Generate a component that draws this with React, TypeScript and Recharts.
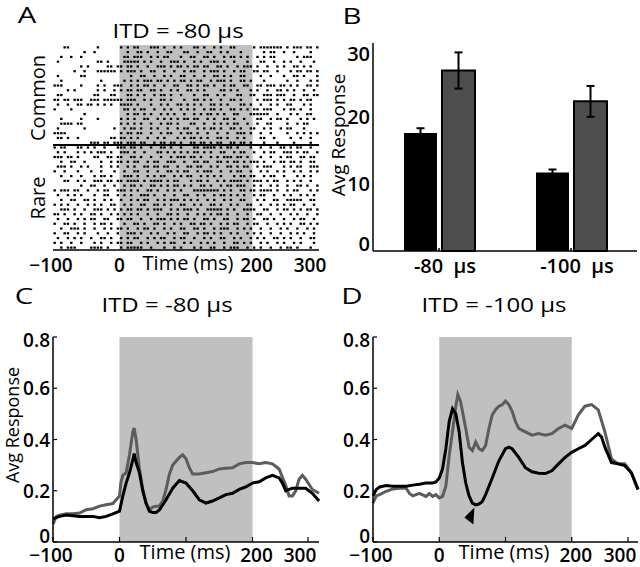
import React from 'react';
import {
  Bar,
  BarChart,
  ErrorBar,
  Line,
  LineChart,
  ReferenceArea,
  ReferenceDot,
  ReferenceLine,
  Scatter,
  ScatterChart,
  XAxis,
  YAxis,
} from 'recharts';

const FONT = '"Open Sans", "DejaVu Sans", sans-serif';
const SHADE = '#c0c0c0';
const GRAY_LINE = '#5c5c5c';

// panel A: spike raster, one string per 100 ms, one char per 5 ms bin
const commonTrials = [
  ['...xx........x......', 'x.x.xx...xxx.x..x.x.', '..xx.x..x.x..xx.....', 'x.xxxxxxx.x.xxx.xx.x'],
  ['.........x..x.......', '..x..xx.x..x..xx...x', 'x..x..xx..x.x...x...', '...x.xx..x..x....x..'],
  ['..x..x..x...........', '.xx.xxx..x.x.xx...x.', '.xx..xx.x..x.xx.x.x.', '.x.x.xx......x.xxx..'],
  ['.x...........xx.x...', '.xxxxx.x.x..x..xxx.x', '..x.x..xxx.x..x...x.', '..xx..x..x.x..x...x.'],
  ['........x.x.....xx.x', 'x.xx.x..x..xxx.x.xx.', 'x.xx.xx..xx.x..x.xxx', '.x..x..x.x..xx.x.x..'],
  ['......x..x...xxxxxx.', 'x.xxx.x..xx..x..x..x', '.xx..x.xxx.x..x.xx..', 'xx.xx..x...x.xx.xx.x'],
  ['.x......xx..........', '...x..xx..x..x.x..xx', '..x..x..xx.x.x..xx..', '..x..x...x..xx.x...x'],
  ['..x...........x.....', '.x.x.x.xxx.xx.x.x.xx', '.x.xx..x.xxx.x..xx.x', '...x......x..x...x.x'],
  ['xxx.....x....x.x..xx', 'x..x.x.xx.x..x..xx..', 'xx.x.xx.x..x.xx..xx.', '.xx.xxx.xx.x.x..xx.x'],
  ['....x.x......x.x..x.', 'x.xx.xx..xx.x..x.x..', 'xx.x.x....xx.x.x...x', '.x..x..xx.x.x..x..x.'],
  ['.xx.........xx...xx.', '..xx.x.x..x.xx.x..x.', '..x..xx..x.x...xx..x', 'x..xxx.xxx..x..xx.xx'],
  ['xx.xx.xxx..xxx.xxxxx', 'x.xxx..x.x..xx.x...x', '..xx.x.x..x..xx.x...', '.x.xxx.x.x.xx.x.xx..'],
  ['.x..x..xx.xx.x.x.x..', 'xxxx.x...x..x.x..xx.', 'x.x.x..xx.x.x...xx.x', '..x..x.x..xx...x.x..'],
  ['x....x..............', '.xx.x.xx..x..x.x..x.', 'x.x..x.xx.x..xx.x.x.', 'xx.xxx...x.xx.x..x..'],
  ['.........x..........', '..x.xx.x.x..x.x.x..x', '..x.x.xx.x.x..xx...x', 'xxxxx..x...x.x..xx..'],
  ['..x.....x....x......', 'x.x.x..xx..x.x.x.x.x', 'x.xx..x.x..xx.x..x..', '.xx..x.xx.x...x.x.x.'],
  ['..xxxx.xx...........', 'x.x.x.x..x..x.xx.x..', '.xx..x..x.x.x.xx..x.', '.x..xx....x..x.xx...'],
  ['.x.......x........x.', '.x.xx.x..x.x..x..x.x', 'x..x.x.xx.x..xx.x..x', 'x..x.x..x.xx...x....'],
  ['xxxx................', 'x.xx.xx..x..x.xx..x.', 'xx.x..x..x..x..xxx.x', '..x..x....x..x.x.x.x'],
  ['.xx.x..x.........xx.', 'xx.x.x..x..x.x...x.x', '.xx.x.x..xx.x..x.x..', '..xx..x....x..x..x..'],
  ['...........xxx.xx.xx', 'x.xxx.xx..x.xx.xx.x.', '.xx.xx.x.xx..xx.xx.x', '...x...x....x....x..'],
];

const rareTrials = [
  ['x.xx...xx.x.x..x...x', 'xx.xx.x..x..xx.x..x.', '..xx.xxxx.x.xx.x...x', '..x..x..xx.x.xx..x..'],
  ['.x.x...x.x.x.xxx.x..', 'xxx.x..x...xx.x.x.x.', 'x.xx.x.x..xx..x.xx..', 'x..x.xx..xxx.x.xx..x'],
  ['xxx.xx.x....xx..xx.x', 'x..xx.x..x..x..x.xxx', '.xx.x..x.x.xxx.xx.x.', '..x..x..x.xx..xx.xx.'],
  ['..x..xx..x....x..x.x', 'x.x.xx..x.xx..xxx..x', '..xx.xx..xx.x.xx.x.x', 'xx.x..x.xx.xx.x..xx.'],
  ['.xxx.x..x.x...x..x.x', '..x.x..xx.xx.xx..x..', 'xx.xx..x.x..xx.x.xx.', '.x.xxx...x.x.xx..xxx'],
  ['x..x...x...x..x...x.', '.x..xx..x..x..xx.x.x', 'x..x.xxx..x..x.xx..x', '..x.x..x.x..x.x..x.x'],
  ['..x..x..x...x.xx.x..', '.xxx.x..x.x.xx..x.x.', 'xx..x.x.x.x...x.xx.x', 'x..x.xx..x...x.x.x..'],
  ['...xx..x.x..xxx.xx.x', 'x.xxxx.x.xxxx.x.xx..', '.x.xx.x..x.x.xxxx.x.', 'xxx.x.xx..x.x.x..x..'],
  ['........x..xx..x..x.', '.x.xx.x..xx.x.x.xx.x', '.x..xx.x..x.xx.xxx..', 'x.x..x.x..x..xx.x..x'],
  ['x.xxx.xx..x..x.xx..x', 'xx.x.x..xx.x..x.x.x.', '..xxxxxxxx.x.x..xx.x', 'x.xxxx.x..x.xx...x.x'],
  ['.x..x.x.x...x..xx..x', '.x.x..xxx.x..x..x..x', 'x..x.x..x.xx.x.x.x..', 'x.xx..x..x.x..x.x.x.'],
  ['..x..xx..xx.x..x.x..', 'x..x.x.xx..x.x.xxx.x', '.x.x..x.x..x.x..xx..', '.x.x..xx..xxxxx..xx.'],
  ['x.x.x..x..x.x.x..xx.', '.x.x..xx..xx.x.x..xx', '..x.x..xx.x..x.x..xx', '..x..x.x.x.xx..x..x.'],
  ['..xxx.x..x..xxx.x.x.', 'x.xx.xx.x.xxx..x.x.x', 'xx.x..xxxxx.x.x..xxx', 'x..xx..x.xx.x.x.xx.x'],
  ['xx.x..x.x..xx.x..x.x', '.x.x.x..x..x..xx.x..', 'x..x.x.x.xx.x..x..x.', '.xx..x..x..x.x..x..x'],
  ['.x..x..x.x.xx..xx..x', 'x.xx..x..x.xxx.x.x.x', 'x.x..xx.x..xx..x.xx.', 'x..xx.x..x..x.xx..x.'],
  ['x..xx.x..x..x.xx.x..', '.x..xx.x..xx.x..x.x.', '.xx.xx.x..x.x.xx..x.', 'xx..x..x.x.x..xx.x.x'],
  ['..x..xxx.x..x..x.x.x', 'x.x..x.xx.x..x.x..xx', '..xx.x..x.xxx..x.x.x', '..x..x..x.x..x..x.x.'],
  ['x..xx..x.x...x..x..x', '..xxx.x..x.x..x.x..x', 'x..x.xx.x.x..x.x..x.', 'x.x..x..x..x.x.x..x.'],
  ['.x..x.x.x..x..xx.x..', 'x.x.xx..x.x.xx..x.xx', '..x..x.x..xx..x.x..x', '.x.x..xx.x.x..x..xx.'],
  ['x.x..x..x...x.x..x.x', 'x.xx..x.x..x.x.xx..x', '.x..x.x.x..x..xx.x.x', '..x.x..x.x..x.x...x.'],
  ['..x.xxx....xxxx.x...', 'x.xxxxx..x...x..x.x.', '..x.x..xx..x.xxx..x.', 'x.x..x..x.xx.x...x..'],
];

const timeTicks = [-100, 0, 100, 200, 300];

// panel B: mean response per ITD, common vs rare
const itdConditions = ['-80 µs', '-100 µs'];
const commonMean = [17.6, 11.7];
const commonSem = [0.7, 0.45];
const rareMean = [26.9, 22.3];
const rareSem = [2.7, 2.3];
const countTicks = [0, 10, 20, 30];

// panels C and D: PSTH curves
const respTicks = [0, 0.2, 0.4, 0.6, 0.8];

const c80CommonT = [-100, -90, -80, -60, -40, -30, -20, -10, 0, 5, 10, 15, 20, 22, 25, 30, 35, 40, 45, 50, 55, 60, 70, 80, 90, 100, 110, 120, 130, 140, 150, 160, 170, 180, 190, 200, 210, 220, 230, 240, 245, 250, 260, 270, 280, 290, 300];
const c80CommonV = [0.09, 0.1, 0.105, 0.1, 0.1, 0.095, 0.1, 0.11, 0.12, 0.18, 0.23, 0.27, 0.32, 0.345, 0.31, 0.27, 0.2, 0.15, 0.12, 0.115, 0.115, 0.125, 0.165, 0.21, 0.24, 0.23, 0.2, 0.165, 0.152, 0.16, 0.172, 0.185, 0.19, 0.205, 0.215, 0.23, 0.235, 0.25, 0.26, 0.25, 0.23, 0.2, 0.21, 0.21, 0.21, 0.19, 0.16];
const c80RareT = [-100, -95, -90, -80, -70, -60, -50, -40, -30, -20, -10, -5, 0, 2, 5, 10, 15, 20, 22, 25, 30, 35, 40, 45, 50, 55, 60, 65, 70, 75, 80, 90, 95, 100, 105, 110, 120, 130, 140, 150, 160, 170, 180, 190, 200, 210, 220, 230, 240, 250, 255, 260, 265, 270, 275, 280, 290, 300];
const c80RareV = [0.07, 0.1, 0.105, 0.11, 0.11, 0.113, 0.126, 0.13, 0.14, 0.145, 0.15, 0.165, 0.18, 0.23, 0.26, 0.27, 0.34, 0.43, 0.445, 0.4, 0.285, 0.205, 0.152, 0.126, 0.136, 0.14, 0.14, 0.16, 0.205, 0.265, 0.3, 0.33, 0.34, 0.325, 0.29, 0.265, 0.265, 0.27, 0.275, 0.285, 0.288, 0.29, 0.305, 0.31, 0.31, 0.305, 0.31, 0.305, 0.285, 0.22, 0.18, 0.18, 0.2, 0.245, 0.26, 0.245, 0.205, 0.19];

const c100CommonT = [-100, -95, -90, -80, -70, -60, -50, -40, -30, -20, -10, -5, 0, 5, 10, 15, 20, 25, 30, 35, 40, 45, 50, 55, 60, 65, 70, 80, 90, 100, 105, 110, 120, 130, 140, 150, 160, 170, 180, 190, 200, 210, 220, 230, 240, 245, 250, 260, 270, 280, 290, 300];
const c100CommonV = [0.18, 0.205, 0.215, 0.22, 0.218, 0.218, 0.218, 0.222, 0.225, 0.23, 0.23, 0.234, 0.25, 0.285, 0.365, 0.47, 0.52, 0.5, 0.43, 0.31, 0.23, 0.18, 0.152, 0.145, 0.148, 0.158, 0.185, 0.25, 0.317, 0.364, 0.37, 0.364, 0.33, 0.29, 0.274, 0.268, 0.267, 0.278, 0.305, 0.33, 0.35, 0.364, 0.377, 0.4, 0.423, 0.41, 0.37, 0.31, 0.305, 0.298, 0.27, 0.205];
const c100RareT = [-100, -95, -90, -80, -70, -60, -50, -45, -40, -30, -20, -15, -10, -5, 0, 5, 10, 15, 20, 25, 28, 32, 35, 40, 45, 50, 55, 60, 65, 70, 75, 80, 85, 90, 95, 100, 105, 110, 115, 120, 130, 140, 150, 160, 170, 180, 190, 200, 205, 210, 220, 230, 240, 250, 260, 270, 280, 290, 300];
const c100RareV = [0.152, 0.18, 0.185, 0.198, 0.207, 0.21, 0.21, 0.19, 0.18, 0.19, 0.178, 0.189, 0.178, 0.185, 0.172, 0.178, 0.218, 0.337, 0.43, 0.53, 0.575, 0.55, 0.51, 0.443, 0.37, 0.357, 0.39, 0.364, 0.357, 0.377, 0.443, 0.496, 0.516, 0.53, 0.536, 0.55, 0.536, 0.51, 0.47, 0.443, 0.43, 0.417, 0.423, 0.417, 0.423, 0.443, 0.456, 0.443, 0.47, 0.496, 0.53, 0.536, 0.516, 0.43, 0.324, 0.305, 0.305, 0.27, 0.205];

const pairs = (t: number[], v: number[]) => t.map((x, i) => ({ t: x, v: v[i] }));

function toSpikes(trials: string[][], rowOffset: number) {
  const out: { t: number; y: number }[] = [];
  trials.forEach((parts, r) => {
    parts.forEach((s, k) => {
      for (let i = 0; i < Math.min(20, s.length); i++) {
        if (s[i] === 'x') out.push({ t: -100 + (k * 20 + i) * 5 + 2.5, y: rowOffset + r + 0.5 });
      }
    });
  });
  return out;
}

const spikes = [...toSpikes(commonTrials, 0), ...toSpikes(rareTrials, commonTrials.length)];
const nRows = commonTrials.length + rareTrials.length;

function Txt({ x, y, size = 20, weight = 400, anchor = 'middle', rot = false, sx = 1, children }: any) {
  const tr = rot ? `translate(${x},${y}) rotate(-90)` : `translate(${x},${y}) scale(${sx},1)`;
  return (
    <text transform={tr} textAnchor={anchor} dominantBaseline="central" fontFamily={FONT} fontSize={size} fontWeight={weight} fill="#000">
      {children}
    </text>
  );
}

const timeLabel = (v: number) => (v < 0 ? `\u2212${-v}` : String(v));

function makeTimeTick(dy: number, marks: boolean) {
  return (p: any) => {
    const v = p.payload.value as number;
    const dx = v === 300 ? -8 : v === -100 ? -2 : v === 200 ? 4 : 0;
    return (
      <g>
        {marks && <line x1={p.x} x2={p.x} y1={p.y} y2={p.y - 5} stroke="#000" strokeWidth={1.2} />}
        {v !== 100 && (
          <Txt x={p.x + dx} y={p.y + dy} weight={600} size={19}>
            {timeLabel(v)}
          </Txt>
        )}
      </g>
    );
  };
}

function RespTick(p: any) {
  const v = p.payload.value as number;
  const dy = v === 0 ? -6 : v === 0.8 ? 3 : 0;
  return (
    <g>
      <line x1={p.x + 3} x2={p.x + 7} y1={p.y} y2={p.y} stroke="#000" strokeWidth={1.2} />
      <Txt x={p.x} y={p.y + dy} anchor="end" weight={600} size={19}>
        {v === 0 ? '0' : v.toFixed(1)}
      </Txt>
    </g>
  );
}

function CountTick(p: any) {
  const v = p.payload.value as number;
  const dy = v === 0 ? -8 : v === 30 ? 4 : 0;
  return (
    <Txt x={p.x} y={p.y + dy} anchor="end" weight={600}>
      {v}
    </Txt>
  );
}

function ItdTick(p: any) {
  return (
    <g>
      <line x1={p.x} x2={p.x} y1={p.y} y2={p.y - 3} stroke="#000" strokeWidth={1.5} />
      <Txt x={p.x + 6} y={p.y + 14} weight={600}>
        {String(p.payload.value).replace(' ', '\u00a0\u00a0')}
      </Txt>
    </g>
  );
}

const spikeMark = (p: any) => <rect x={p.cx - 1.2} y={p.cy - 1.1} width={2.4} height={2.2} fill="#000" />;

const axisLine = { stroke: '#000', strokeWidth: 1.5 };

function RasterPanel() {
  return (
    <ScatterChart width={330} height={280} margin={{ top: 45, right: 11, bottom: 0, left: 53 }}>
      <XAxis type="number" dataKey="t" domain={[-100, 300]} ticks={timeTicks} height={30} axisLine={axisLine} tickLine={false} tickSize={0} tickMargin={0} tick={makeTimeTick(15, false)} />
      <YAxis type="number" dataKey="y" domain={[0, nRows]} reversed width={0} axisLine={axisLine} tickLine={false} tick={false} />
      <ReferenceArea x1={0} x2={200} y1={0} y2={nRows} fill={SHADE} fillOpacity={1} stroke="none" />
      <ReferenceLine y={commonTrials.length} stroke="#000" strokeWidth={2} />
      <Scatter data={spikes} shape={spikeMark} isAnimationActive={false} />
    </ScatterChart>
  );
}

function BarPanel() {
  const data = itdConditions.map((c, i) => ({
    itd: c,
    common: commonMean[i],
    commonErr: commonSem[i],
    rare: rareMean[i],
    rareErr: rareSem[i],
  }));
  return (
    <BarChart width={310} height={280} data={data} margin={{ top: 43, right: 3, bottom: 0, left: 0 }} barGap={5} barSize={33}>
      <XAxis dataKey="itd" height={29} axisLine={axisLine} tickLine={false} tickSize={0} tickMargin={0} tick={ItdTick} />
      <YAxis domain={[0, 31]} ticks={countTicks} width={43} axisLine={axisLine} tickLine={false} tickSize={0} tickMargin={3} tick={CountTick} />
      <Bar dataKey="common" fill="#000" isAnimationActive={false}>
        <ErrorBar dataKey="commonErr" width={4} stroke="#000" strokeWidth={2} direction="y" />
      </Bar>
      <Bar dataKey="rare" fill="#4d4d4d" stroke="#000" strokeWidth={2} isAnimationActive={false}>
        <ErrorBar dataKey="rareErr" width={4} stroke="#000" strokeWidth={2} direction="y" />
      </Bar>
    </BarChart>
  );
}

function CurvePanel({ common, rare, right, arrow }: { common: { t: number; v: number }[]; rare: { t: number; v: number }[]; right: number; arrow?: boolean }) {
  return (
    <LineChart width={320} height={287} margin={{ top: 57, right, bottom: 0, left: 0 }}>
      <XAxis type="number" dataKey="t" domain={[-100, 300]} ticks={timeTicks} height={25} axisLine={axisLine} tickLine={false} tickSize={0} tickMargin={0} tick={makeTimeTick(13, true)} allowDuplicatedCategory={false} />
      <YAxis type="number" domain={[0, 0.8]} ticks={respTicks} width={53} axisLine={axisLine} tickLine={false} tickSize={0} tickMargin={3} tick={RespTick} />
      <ReferenceArea x1={0} x2={200} y1={0} y2={0.8} fill={SHADE} fillOpacity={1} stroke="none" />
      <Line data={rare} dataKey="v" stroke={GRAY_LINE} strokeWidth={3} dot={false} isAnimationActive={false} />
      <Line data={common} dataKey="v" stroke="#000" strokeWidth={3} dot={false} isAnimationActive={false} />
      {arrow && (
        <ReferenceDot
          x={47}
          y={0.1}
          r={6}
          shape={(p: any) => <polygon points={`${p.cx - 6},${p.cy + 1} ${p.cx + 4},${p.cy - 9} ${p.cx + 3},${p.cy + 8}`} fill="#000" />}
        />
      )}
    </LineChart>
  );
}

export default function App() {
  return (
    <div style={{ position: 'absolute', left: 0, top: 0, width: 640, height: 567, background: '#fff', overflow: 'hidden' }}>
      <div style={{ position: 'absolute', left: 0, top: 0 }}>
        <RasterPanel />
      </div>
      <div style={{ position: 'absolute', left: 330, top: 0 }}>
        <BarPanel />
      </div>
      <div style={{ position: 'absolute', left: 0, top: 280 }}>
        <CurvePanel common={pairs(c80CommonT, c80CommonV)} rare={pairs(c80RareT, c80RareV)} right={1} />
      </div>
      <div style={{ position: 'absolute', left: 320, top: 280 }}>
        <CurvePanel common={pairs(c100CommonT, c100CommonV)} rare={pairs(c100RareT, c100RareV)} right={2} arrow />
      </div>
      <svg width={640} height={567} style={{ position: 'absolute', left: 0, top: 0, pointerEvents: 'none' }}>
        <Txt x={27} y={15} size={21} sx={1.4}>A</Txt>
        <Txt x={352} y={16} size={21} sx={1.4}>B</Txt>
        <Txt x={24} y={296} size={21} sx={1.4}>C</Txt>
        <Txt x={352} y={296} size={21} sx={1.4}>D</Txt>
        <Txt x={178} y={30} sx={1.2}>ITD = -80 µs</Txt>
        <Txt x={167} y={304} sx={1.2}>ITD = -80 µs</Txt>
        <Txt x={494} y={304} sx={1.2}>ITD = -100 µs</Txt>
        <Txt x={37} y={98} rot>Common</Txt>
        <Txt x={37} y={198} rot>Rare</Txt>
        <Txt x={338} y={135} size={19} rot>Avg Response</Txt>
        <Txt x={12} y={425} size={18} rot>Avg Response</Txt>
        <Txt x={188} y={262}>Time (ms)</Txt>
        <Txt x={185} y={551}>Time (ms)</Txt>
        <Txt x={504} y={551}>Time (ms)</Txt>
      </svg>
    </div>
  );
}
